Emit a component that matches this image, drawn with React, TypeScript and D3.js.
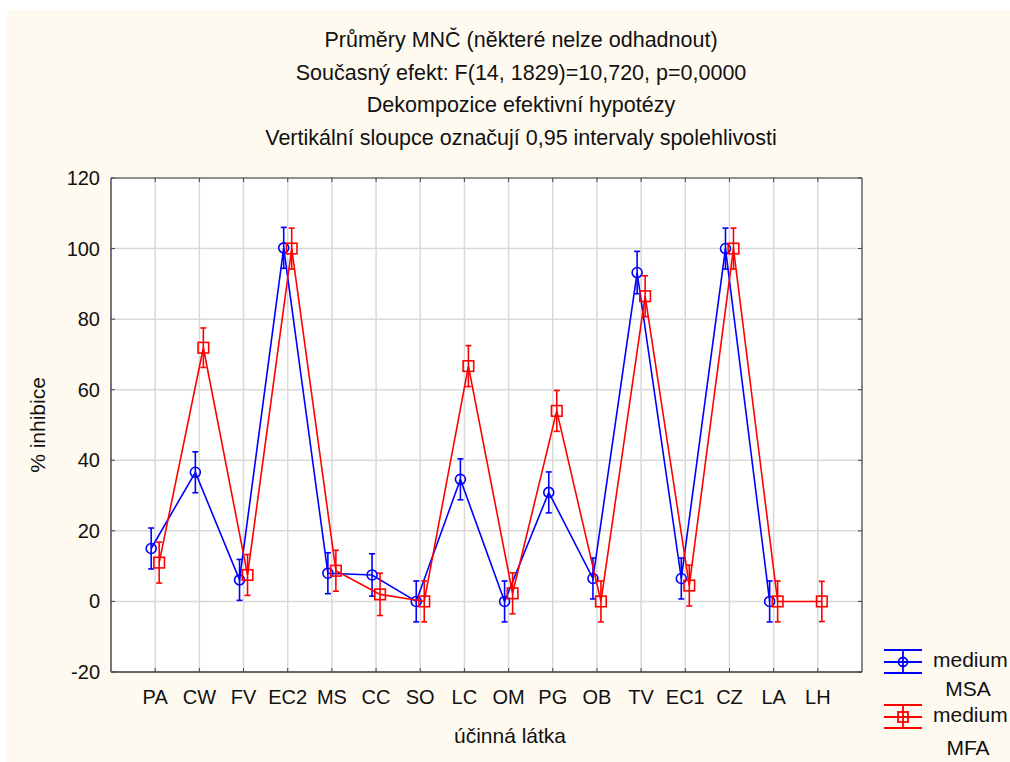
import React from "react";
import * as d3 from "d3";

const categories = ["PA", "CW", "FV", "EC2", "MS", "CC", "SO", "LC", "OM", "PG", "OB", "TV", "EC1", "CZ", "LA", "LH"];
const msaMeans: (number | null)[] = [15.0, 36.6, 6.1, 100.2, 8.0, 7.5, 0.0, 34.6, 0.0, 30.9, 6.5, 93.2, 6.5, 100.0, 0.0, null];
const msaErrors: (number | null)[] = [5.8, 5.8, 5.8, 5.8, 5.8, 6.0, 5.8, 5.8, 5.8, 5.8, 5.8, 6.0, 5.8, 5.8, 5.8, null];
const mfaMeans: (number | null)[] = [11.0, 71.9, 7.5, 100.0, 8.7, 2.0, 0.0, 66.7, 2.3, 54.0, 0.0, 86.5, 4.5, 100.0, 0.0, 0.0];
const mfaErrors: (number | null)[] = [5.8, 5.6, 5.8, 5.8, 5.8, 6.0, 5.8, 5.8, 5.8, 5.8, 5.8, 5.8, 5.8, 5.8, 5.8, 5.7];
const yTicks = [-20, 0, 20, 40, 60, 80, 100, 120];
const titleLines = [
  "Průměry MNČ (některé nelze odhadnout)",
  "Současný efekt: F(14, 1829)=10,720, p=0,0000",
  "Dekompozice efektivní hypotézy",
  "Vertikální sloupce označují 0,95 intervaly spolehlivosti",
];
const seriesNames = ["medium MSA", "medium MFA"];

const W = 1010;
const H = 762;
const L = 111, R = 862, T = 178, B = 672;
const FONT = "'Liberation Sans', Arial, sans-serif";
const BLUE = "#0000ff";
const RED = "#ff0000";

export default function App() {
  const x = d3.scalePoint<string>().domain(categories).range([L, R]).padding(1);
  const y = d3.scaleLinear().domain([-20, 120]).range([B, T]);

  const series = [
    { name: seriesNames[0], means: msaMeans, errs: msaErrors, color: BLUE, off: -4, marker: "circle" },
    { name: seriesNames[1], means: mfaMeans, errs: mfaErrors, color: RED, off: 4, marker: "square" },
  ];

  const lineGen = (means: (number | null)[], off: number) =>
    d3
      .line<number | null>()
      .defined((d) => d !== null)
      .x((_, i) => (x(categories[i]) as number) + off)
      .y((d) => y(d as number))(means) || "";

  return (
    <svg width={W} height={H} style={{ position: "absolute", left: 0, top: 0 }} fontFamily={FONT}>
      <rect x={0} y={0} width={W} height={H} fill="#ffffff" />
      <rect x={7} y={10} width={W - 7} height={H - 10} fill="#fffaf0" />

      {titleLines.map((t, i) => (
        <text key={i} x={521} y={47 + i * 32.7} textAnchor="middle" fontSize={21.5} fill="#111">
          {t}
        </text>
      ))}

      <rect x={L} y={T} width={R - L} height={B - T} fill="#ffffff" />

      {/* grid */}
      {categories.map((c) => (
        <line key={"gx" + c} x1={x(c)} x2={x(c)} y1={T} y2={B} stroke="#d9d9d9" strokeWidth={1.5} />
      ))}
      {yTicks.filter((v) => v > -20 && v < 120).map((v) => (
        <line key={"gy" + v} x1={L} x2={R} y1={y(v)} y2={y(v)} stroke="#d9d9d9" strokeWidth={1.5} />
      ))}

      {/* frame */}
      <line x1={L} x2={R} y1={T} y2={T} stroke="#222" strokeWidth={1.2} />
      <line x1={L} x2={L} y1={T} y2={B} stroke="#777" strokeWidth={2} />
      <line x1={R} x2={R} y1={T} y2={B} stroke="#888" strokeWidth={2} />
      <line x1={L} x2={R} y1={B} y2={B} stroke="#666" strokeWidth={2} />

      {/* ticks inward */}
      {categories.map((c) => (
        <g key={"tx" + c}>
          <line x1={x(c)} x2={x(c)} y1={B} y2={B - 4} stroke="#444" strokeWidth={1} />
          <line x1={x(c)} x2={x(c)} y1={T} y2={T + 4} stroke="#444" strokeWidth={1} />
        </g>
      ))}
      {yTicks.map((v) => (
        <g key={"ty" + v}>
          <line x1={L} x2={L + 4} y1={y(v)} y2={y(v)} stroke="#444" strokeWidth={1} />
          <line x1={R} x2={R - 4} y1={y(v)} y2={y(v)} stroke="#444" strokeWidth={1} />
        </g>
      ))}

      {/* tick labels */}
      {yTicks.map((v) => (
        <text key={"yl" + v} x={100} y={y(v) + 7} textAnchor="end" fontSize={20} fill="#111">
          {v}
        </text>
      ))}
      {categories.map((c) => (
        <text key={"xl" + c} x={x(c)} y={704} textAnchor="middle" fontSize={20} fill="#111">
          {c}
        </text>
      ))}

      <text x={510} y={743} textAnchor="middle" fontSize={21} fill="#111">
        účinná látka
      </text>
      <text transform={`translate(45, ${(T + B) / 2}) rotate(-90)`} textAnchor="middle" fontSize={21} fill="#111">
        % inhibice
      </text>

      {/* series */}
      <defs>
        <clipPath id="plotclip">
          <rect x={L} y={T} width={R - L} height={B - T} />
        </clipPath>
      </defs>
      <g clipPath="url(#plotclip)">
        {series.map((s) => (
          <g key={s.name}>
            <path d={lineGen(s.means, s.off)} fill="none" stroke={s.color} strokeWidth={1.6} />
            {s.means.map((m, i) => {
              if (m === null) return null;
              const cx = (x(categories[i]) as number) + s.off;
              const e = s.errs[i] as number;
              const y0 = y(m - e);
              const y1 = y(m + e);
              const cy = y(m);
              return (
                <g key={i} stroke={s.color} strokeWidth={1.6} fill="none">
                  <line x1={cx} x2={cx} y1={y0} y2={y1} />
                  <line x1={cx - 3} x2={cx + 3} y1={y0} y2={y0} />
                  <line x1={cx - 3} x2={cx + 3} y1={y1} y2={y1} />
                  {s.marker === "circle" ? (
                    <circle cx={cx} cy={cy} r={5} />
                  ) : (
                    <rect x={cx - 5.3} y={cy - 5.3} width={10.6} height={10.6} />
                  )}
                </g>
              );
            })}
          </g>
        ))}
      </g>

      {/* legend */}
      {series.map((s, i) => {
        const cy = i === 0 ? 662 : 717;
        const lx = 903;
        return (
          <g key={"lg" + i}>
            <g stroke={s.color} strokeWidth={1.8} fill="none">
              <line x1={884} x2={922} y1={cy - 12} y2={cy - 12} />
              <line x1={884} x2={922} y1={cy} y2={cy} />
              <line x1={884} x2={922} y1={cy + 11} y2={cy + 11} />
              <line x1={lx} x2={lx} y1={cy - 12} y2={cy + 11} />
              {s.marker === "circle" ? (
                <circle cx={lx} cy={cy} r={4.5} />
              ) : (
                <rect x={lx - 5} y={cy - 5} width={10} height={10} />
              )}
            </g>
            <text x={933} y={cy + 5} fontSize={21} fill="#111">
              {s.name.split(" ")[0]}
            </text>
            <text x={968} y={i === 0 ? 696 : 755} textAnchor="middle" fontSize={21} fill="#111">
              {s.name.split(" ")[1]}
            </text>
          </g>
        );
      })}
    </svg>
  );
}
